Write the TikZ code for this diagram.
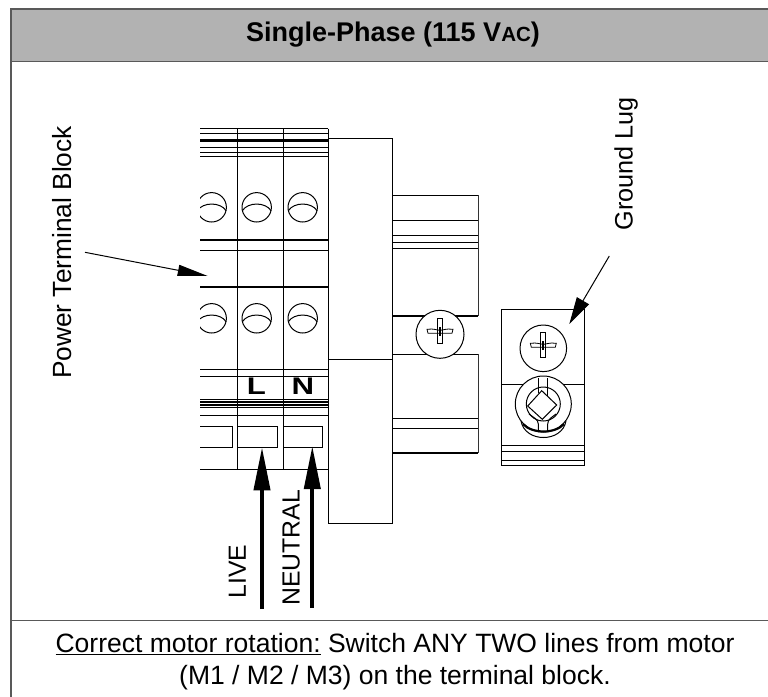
\documentclass[tikz,border=0pt]{standalone}
\usepackage{fontspec}
\setmainfont{Liberation Sans}
\usetikzlibrary{arrows.meta}
\newcommand{\fs}[1]{\fontsize{#1}{#1}\selectfont}
\tikzset{
  frameline/.style={draw=black!65,line width=1.3pt},
  ln/.style={draw=black,line width=1pt},
  thinln/.style={draw=black!80,line width=.8pt},
  thickln/.style={draw=black,line width=2pt},
  lbl/.style={inner sep=0pt,font=\fs{26.3}},
  lblsmall/.style={inner sep=0pt,font=\fs{24.8}},
  hand/.style={inner sep=0pt,font=\fs{24}\bfseries,xscale=1.3},
  thinarrow/.style={draw=black,line width=1pt,-{Triangle[length=30pt,width=11pt]}},
  slimarrow/.style={draw=black,line width=1pt,-{Triangle[length=27pt,width=14pt]}},
  fatarrow/.style={draw=black,line width=4pt,-{Triangle[length=43pt,width=16pt]}},
}
\newcommand{\termscrew}[2]{%
  \begin{scope}
    \clip (200,#2-20) rectangle (340,#2+20);
    \draw[ln] (#1,#2) circle (14.7);
    \draw[ln] (#1-14.4,#2+3.5) .. controls (#1-9,#2-5.5) and (#1+9,#2-5.5) .. (#1+14.4,#2+3.5);
  \end{scope}}
\newcommand{\phil}[2]{%
  \draw[line width=.8pt,fill=white] (#1-13,#2-5) .. controls (#1-6,#2-6) and (#1-3,#2-4) .. (#1,#2-4) .. controls (#1+3,#2-4) and (#1+6,#2-6) .. (#1+13,#2-5) -- (#1+12,#2-1) .. controls (#1+6,#2-1) and (#1+3,#2-1) .. (#1,#2-1) .. controls (#1-3,#2-1) and (#1-6,#2-1) .. (#1-12,#2-1) -- cycle;
  \draw[line width=.8pt] (#1-2.5,#2-16) -- (#1+2.5,#2-16) -- (#1+2.5,#2+9) -- (#1-2.5,#2+9) -- cycle;
  \fill (#1-1,#2-7) rectangle (#1+1,#2+2);}
\begin{document}
\begin{tikzpicture}[x=1pt,y=-1pt]
\useasboundingbox (0,0) rectangle (768,696);
% frame
\path[fill=black!30] (11,9) rectangle (768,61.5);
\draw[frameline] (770,9) -- (11,9) -- (11,698);
\draw[frameline] (11,61.5) -- (770,61.5);
\draw[frameline] (11,620.5) -- (770,620.5);
\node[inner sep=0pt,font=\fs{27}\bfseries] (title) at (393,35) {Single-Phase (115 V\fs{20.5}AC\fs{27})};
% terminal block
\foreach \y in {128.7,133,147.3,152.7,156.7,250.7,369.3,376,399,407.7,415,469.3} \draw[ln] (200,\y) -- (328.3,\y);
\foreach \y in {140.7} \draw[draw=black,line width=3pt] (200,\y) -- (328.3,\y);
\foreach \y in {239.5,286.7,401.7,404.5} \draw[thickln] (200,\y) -- (328.3,\y);
\foreach \x in {237.7,283,328.3} \draw[ln] (\x,128.7) -- (\x,469.3);
\termscrew{211.7}{207.3}\termscrew{256.7}{207.3}\termscrew{302.7}{207.3}
\termscrew{211.7}{318.3}\termscrew{256.7}{318.3}\termscrew{302.7}{318.3}
% contact windows
\draw[ln] (200,426) -- (232.3,426) -- (232.3,447.3) -- (200,447.3);
\draw[ln] (237.7,426) rectangle (277.7,447.3);
\draw[ln] (283.7,426) rectangle (322.7,447.3);
% handwritten labels
\node[hand] (lblL) at (256.5,386.5) {L};
\node[hand] (lblN) at (303,386.5) {N};
% tall cover
\draw[ln] (328.3,138.3) -- (392.3,138.3) -- (392.3,523) -- (328.3,523) -- (328.3,469.3);
\draw[ln] (328.3,359) -- (392.3,359);
% rail
\foreach \y in {195,220,235.7,242,248,354,418.3,428.3} \draw[ln] (392.3,\y) -- (478.3,\y);
\draw[thickln] (392.3,316) -- (478.3,316);
\draw[thickln] (392.3,453) -- (478.3,453);
\draw[thinln] (478.3,195) -- (478.3,316);
\draw[thinln] (478.3,354) -- (478.3,453);
\draw[ln,fill=white] (440,334.3) circle (24);
\phil{440}{334.3}
% ground lug
\draw[ln] (501.7,309) rectangle (584,465);
\foreach \y in {384.3,445,451,460.7} \draw[ln] (501.7,\y) -- (584,\y);
\draw[ln] (543.3,348.3) circle (23.3);
\phil{543.3}{348.3}
% lug bolt
\draw[ln,fill=white] (543.3,404) circle (28);
\draw[line width=2.2pt] (523,424) .. controls (532,434) and (555,434) .. (564,424);
\draw[ln] (521,421) .. controls (525,443) and (562,443) .. (566,421);
\draw[ln] (543.3,404) circle (17);
\draw[ln,fill=white] (541.7,390.7) -- (556.7,405) -- (542.3,419.3) -- (527.7,406) -- cycle;
\draw[ln] (538.3,378) -- (538.3,392.5) (547.7,378) -- (547.7,396);
\draw[ln] (529,414) .. controls (534,418) and (538,419) .. (538.3,424) -- (538.3,432);
\draw[ln] (556,414) .. controls (551,418) and (548,419) .. (547.7,424) -- (547.7,432);
% labels and arrows
\node[lbl,rotate=90,anchor=south] (ptb) at (72,252.5) {Power Terminal Block};
\node[inner sep=0pt,font=\fs{25.2},rotate=90,anchor=south] (lug) at (638,163.5) {Ground Lug};
\node[lblsmall,rotate=90,anchor=south west] (live) at (246,598.5) {LIVE};
\node[lblsmall,rotate=90,anchor=south west] (neutral) at (300,606) {NEUTRAL};
\coordinate (ptbTail) at (85,252.3);
\coordinate (ptbTip) at (207.7,276);
\coordinate (lugTail) at (609.3,256);
\coordinate (lugTip) at (569.3,324);
\coordinate (liveTail) at (262,609);
\coordinate (liveTip) at (262,447.3);
\coordinate (neuTail) at (312.3,608);
\coordinate (neuTip) at (312.3,446);
\draw[thinarrow] (ptbTail) -- (ptbTip);
\draw[slimarrow] (lugTail) -- (lugTip);
\draw[fatarrow] (liveTail) -- (liveTip);
\draw[fatarrow] (neuTail) -- (neuTip);
% footer
\node[inner sep=0pt,anchor=base,font=\fs{26.5}] (foot1) at (395,652.7) {\underline{Correct motor rotation:} Switch ANY TWO lines from motor};
\node[inner sep=0pt,anchor=base,font=\fs{26.5}] (foot2) at (395,684) {(M1 / M2 / M3) on the terminal block.};
\end{tikzpicture}
\end{document}
